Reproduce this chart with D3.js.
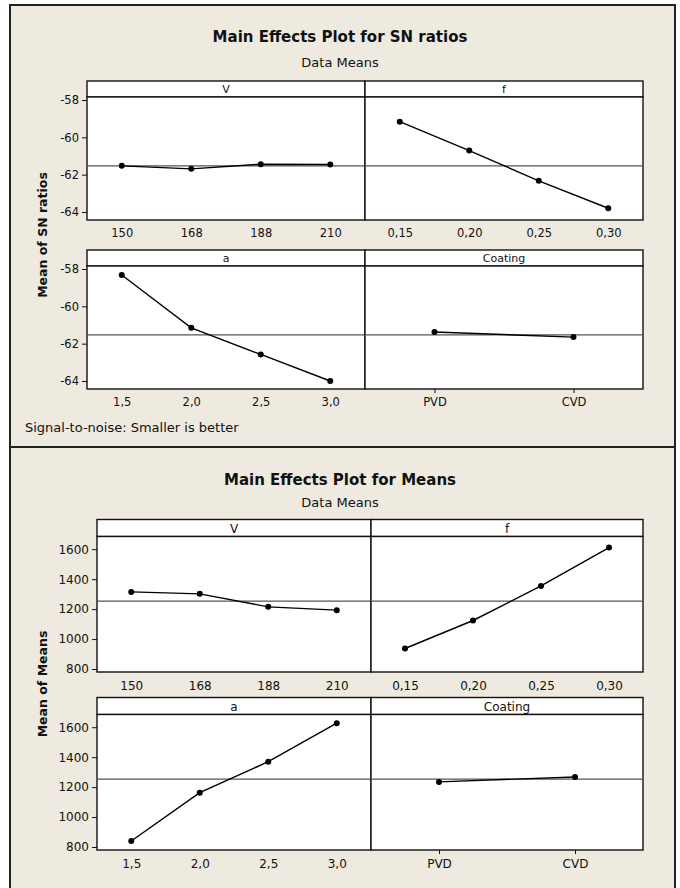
<!DOCTYPE html>
<html lang="en">
<head>
<meta charset="UTF-8">
<title>Main Effects Plots</title>
<style>
body { margin: 0; background: #fff; }
svg text { font-family: "DejaVu Sans", Verdana, sans-serif; fill: #111; }
</style>
</head>
<body>
<div id="chart"></div>
<script src="https://d3js.org/d3.v7.min.js"></script>
<script>
// factor levels (x categories)
var levelsV = ["150", "168", "188", "210"];
var levelsF = ["0,15", "0,20", "0,25", "0,30"];
var levelsA = ["1,5", "2,0", "2,5", "3,0"];
var levelsCoating = ["PVD", "CVD"];

// SN ratios (smaller is better)
var snV = [-61.53, -61.69, -61.44, -61.46];
var snF = [-59.16, -60.71, -62.33, -63.80];
var snA = [-58.32, -61.15, -62.58, -64.00];
var snCoating = [-61.38, -61.65];
var snGrandMean = -61.53;
var snTicks = [-58, -60, -62, -64];

// means
var meanV = [1315, 1302, 1215, 1193];
var meanF = [937, 1124, 1355, 1611];
var meanA = [840, 1163, 1370, 1627];
var meanCoating = [1235, 1268];
var meanGrandMean = 1253;
var meanTicks = [800, 1000, 1200, 1400, 1600];

var W = 680, H = 888;
var beige = "#eeeae0";

var svg = d3.select("#chart").append("svg")
  .attr("width", W)
  .attr("height", H);

// the two framed sections
var sections = [
  {
    top: 5, bottom: 447,
    title: "Main Effects Plot for SN ratios", titleY: 42, subY: 67,
    ylabel: "Mean of SN ratios", ylabelY: 235,
    x0: 87, xm: 365, x1: 643,
    stripTops: [81, 250], stripH: 16, plotH: 123,
    domain: [-64.43, -57.84], ticks: snTicks, grand: snGrandMean,
    tickFont: 11.5, stripFont: 11,
    panels: [
      { name: "V", levels: levelsV, values: snV },
      { name: "f", levels: levelsF, values: snF },
      { name: "a", levels: levelsA, values: snA },
      { name: "Coating", levels: levelsCoating, values: snCoating }
    ],
    note: "Signal-to-noise: Smaller is better", noteY: 432
  },
  {
    top: 447, bottom: 895,
    title: "Main Effects Plot for Means", titleY: 485, subY: 507,
    ylabel: "Mean of Means", ylabelY: 684,
    x0: 97, xm: 371, x1: 643,
    stripTops: [519.5, 697.5], stripH: 17, plotH: 135.5,
    domain: [780, 1685], ticks: meanTicks, grand: meanGrandMean,
    tickFont: 12, stripFont: 12,
    panels: [
      { name: "V", levels: levelsV, values: meanV },
      { name: "f", levels: levelsF, values: meanF },
      { name: "a", levels: levelsA, values: meanA },
      { name: "Coating", levels: levelsCoating, values: meanCoating }
    ]
  }
];

sections.forEach(function(s) {
  var g = svg.append("g");

  // frame
  g.append("rect")
    .attr("x", 10).attr("y", s.top)
    .attr("width", 665).attr("height", s.bottom - s.top)
    .attr("fill", beige)
    .attr("stroke", "#222").attr("stroke-width", 2);

  g.append("text")
    .attr("x", 340).attr("y", s.titleY)
    .attr("text-anchor", "middle")
    .style("font-size", "15px").style("font-weight", "bold")
    .text(s.title);
  g.append("text")
    .attr("x", 340).attr("y", s.subY)
    .attr("text-anchor", "middle")
    .style("font-size", "13px")
    .text("Data Means");

  g.append("text")
    .attr("transform", "translate(47," + s.ylabelY + ") rotate(-90)")
    .attr("text-anchor", "middle")
    .style("font-size", "12.5px").style("font-weight", "bold")
    .text(s.ylabel);

  if (s.note) {
    g.append("text")
      .attr("x", 25).attr("y", s.noteY)
      .style("font-size", "13px")
      .text(s.note);
  }

  s.panels.forEach(function(p, i) {
    var col = i % 2, row = Math.floor(i / 2);
    var left = col === 0 ? s.x0 : s.xm;
    var right = col === 0 ? s.xm : s.x1;
    var stripTop = s.stripTops[row];
    var plotTop = stripTop + s.stripH;
    var plotBottom = plotTop + s.plotH;

    var x = d3.scalePoint()
      .domain(p.levels)
      .range([left, right])
      .padding(0.5);
    var y = d3.scaleLinear()
      .domain(s.domain)
      .range([plotBottom, plotTop]);

    // strip + plot area
    g.append("rect")
      .attr("x", left).attr("y", stripTop)
      .attr("width", right - left).attr("height", s.stripH)
      .attr("fill", "#fff").attr("stroke", "#111").attr("stroke-width", 1.4);
    g.append("rect")
      .attr("x", left).attr("y", plotTop)
      .attr("width", right - left).attr("height", s.plotH)
      .attr("fill", "#fff").attr("stroke", "#111").attr("stroke-width", 1.4);
    g.append("text")
      .attr("x", (left + right) / 2).attr("y", stripTop + s.stripH - 4)
      .attr("text-anchor", "middle")
      .style("font-size", s.stripFont + "px")
      .text(p.name);

    // grand mean reference line
    g.append("line")
      .attr("x1", left).attr("x2", right)
      .attr("y1", y(s.grand)).attr("y2", y(s.grand))
      .attr("stroke", "#555").attr("stroke-width", 1.2);

    // y axis on left column only
    if (col === 0) {
      var ya = g.append("g")
        .attr("transform", "translate(" + left + ",0)")
        .call(d3.axisLeft(y).tickValues(s.ticks).tickSize(5).tickPadding(3)
          .tickFormat(function(d) { return String(d); }));
      ya.select(".domain").remove();
      ya.selectAll("line").attr("stroke", "#111");
      ya.selectAll("text").style("font-size", s.tickFont + "px")
        .style("font-family", "DejaVu Sans, sans-serif").attr("fill", "#111");
    }

    // x axis
    var isCat = p.name === "Coating";
    var xa = g.append("g")
      .attr("transform", "translate(0," + plotBottom + ")")
      .call(d3.axisBottom(x).tickSize(isCat ? 4 : 0).tickPadding(isCat ? 5 : 9));
    xa.select(".domain").remove();
    xa.selectAll("line").attr("stroke", "#111");
    xa.selectAll("text").style("font-size", s.tickFont + "px")
      .style("font-family", "DejaVu Sans, sans-serif").attr("fill", "#111");

    // effect line and points
    var pts = p.levels.map(function(l, k) { return [x(l), y(p.values[k])]; });
    g.append("path")
      .datum(pts)
      .attr("d", d3.line())
      .attr("fill", "none")
      .attr("stroke", "#000").attr("stroke-width", 1.4);
    g.selectAll(null)
      .data(pts)
      .enter().append("circle")
        .attr("cx", function(d) { return d[0]; })
        .attr("cy", function(d) { return d[1]; })
        .attr("r", 3)
        .attr("fill", "#000");
  });
});
</script>
</body>
</html>
